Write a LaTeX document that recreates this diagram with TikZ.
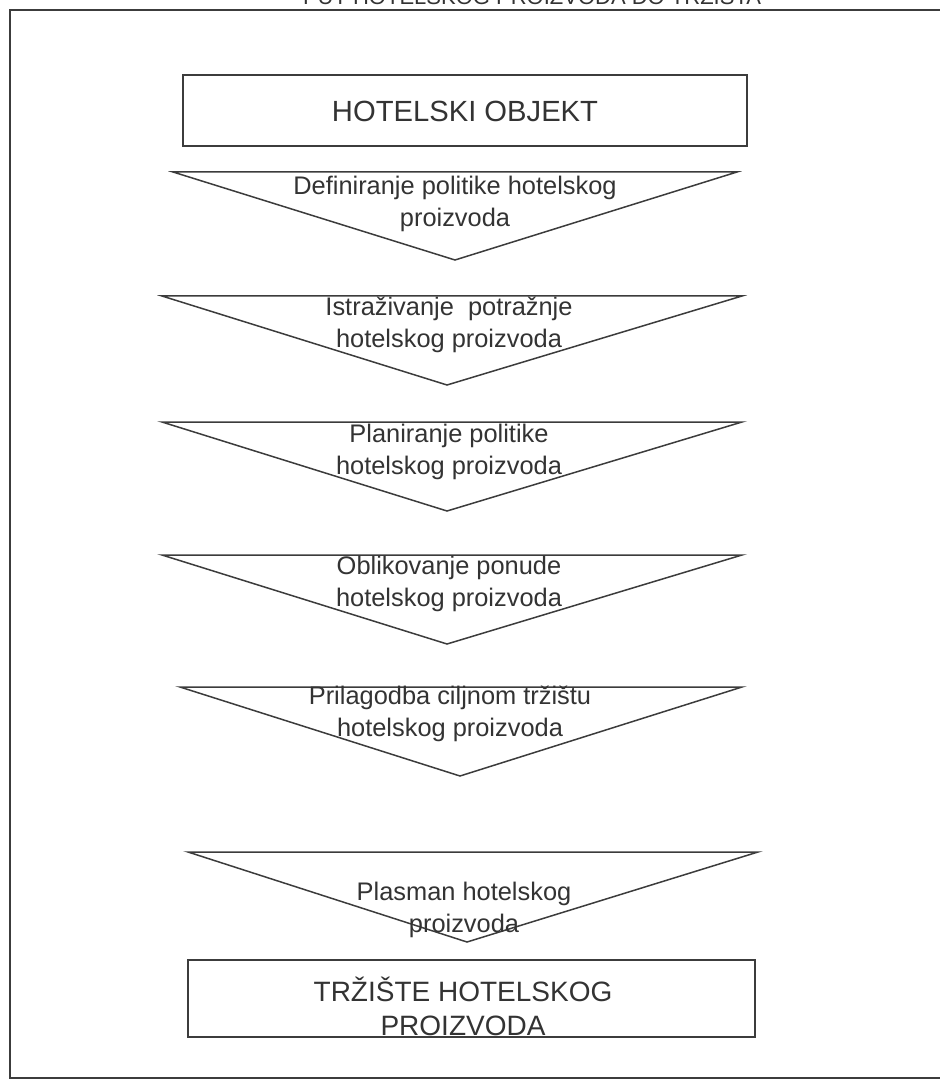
\documentclass[tikz,border=0pt]{standalone}
\usepackage{fontspec}
\setmainfont{Liberation Sans}
\definecolor{linegray}{HTML}{3C3C3C}
\definecolor{textgray}{HTML}{333333}
\begin{document}
\begin{tikzpicture}[x=0.5pt,y=-0.5pt]
    \newcommand{\lft}{162}  % left corner of the funnels
    \newcommand{\rgt}{742}  % right corner of the funnels
    \newcommand{\tip}{447}  % x of the funnel tips
    \newcommand{\depth}{89} % height of a funnel

    % set the styles of the frame, the boxes and the funnels
    \tikzset{
        frame/.style={draw=linegray, line width=1.3pt},
        box/.style={draw=linegray, line width=0.9pt},
        funnel/.style={draw=linegray, line width=0.75pt, line join=miter},
        steptext/.style={text=textgray, align=center, inner sep=0pt,
            font=\fontsize{12.7}{16}\selectfont},
        boxtext/.style={text=textgray, align=center, inner sep=0pt,
            font=\fontsize{14}{17}\selectfont}
    }

    \useasboundingbox (0,0) rectangle (940,1080);
    \clip (0,0) rectangle (940,1080);

    % title, cut by the page edge
    \node[boxtext, font=\fontsize{11}{13}\selectfont, anchor=base] (title) at (532,5) {PUT HOTELSKOG PROIZVODA DO TRŽIŠTA};
    % frame
    \draw[frame] (10,10) rectangle (946,1078);

    % top box
    \draw[box] (183,75) rectangle (747,146);
    \node[boxtext, font=\fontsize{14.6}{17}\selectfont] (hotel) at (465,111) {HOTELSKI OBJEKT};

    % funnel 1
    \draw[funnel] (173,172) -- (737,172) -- (455,260) -- cycle;
    \node[steptext] (defin) at (455,204) {Definiranje politike hotelskog\\proizvoda};

    % funnel 2
    \renewcommand{\vert}{296}
    \draw[funnel] (\lft,\vert) -- (\rgt,\vert) -- (\tip,\vert+\depth) -- cycle;
    \node[steptext] (istra) at (449,325) {Istraživanje\ \ potražnje\\hotelskog proizvoda};

    % funnel 3
    \renewcommand{\vert}{422}
    \draw[funnel] (\lft,\vert) -- (\rgt,\vert) -- (\tip,\vert+\depth) -- cycle;
    \node[steptext] (plan) at (449,452) {Planiranje politike\\hotelskog proizvoda};

    % funnel 4
    \renewcommand{\vert}{555}
    \draw[funnel] (\lft,\vert) -- (\rgt,\vert) -- (\tip,\vert+\depth) -- cycle;
    \node[steptext] (oblik) at (449,584) {Oblikovanje ponude\\hotelskog proizvoda};

    % funnel 5
    \renewcommand{\vert}{687}
    \draw[funnel] (180,\vert) -- (\rgt,\vert) -- (460,\vert+\depth) -- cycle;
    \node[steptext] (prilag) at (450,714) {Prilagodba ciljnom tržištu\\hotelskog proizvoda};

    % funnel 6
    \renewcommand{\vert}{852}
    \draw[funnel] (188,\vert) -- (758,\vert) -- (467,\vert+\depth+1) -- cycle;
    \node[steptext] (plasman) at (464,910) {Plasman hotelskog\\proizvoda};

    % bottom box
    \draw[box] (188,960) rectangle (755,1037);
    \node[boxtext] (trziste) at (463,1006) {TRŽIŠTE HOTELSKOG\\PROIZVODA};
\end{tikzpicture}
\end{document}
